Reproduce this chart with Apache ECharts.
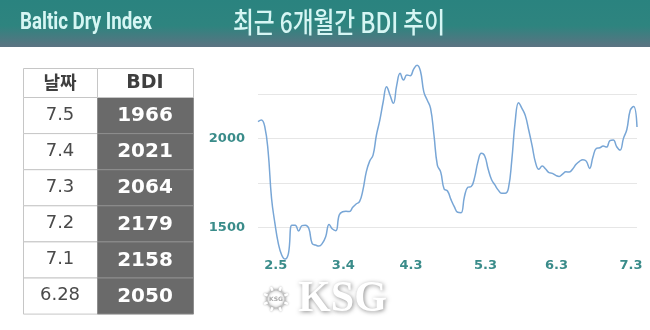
<!DOCTYPE html>
<html><head><meta charset="utf-8">
<script src="https://cdn.jsdelivr.net/npm/echarts@6/dist/echarts.min.js"></script>
<style>html,body{margin:0;padding:0;background:#fff}#c{width:650px;height:330px}</style>
</head><body><div id="c"></div><script>
const dates = [
'1.25','1.26','1.29','1.30','1.31',
'2.1','2.2','2.5','2.6','2.7','2.8','2.9','2.12','2.13','2.14','2.15','2.16','2.19','2.20','2.21','2.22','2.23','2.26','2.27','2.28','2.29',
'3.1','3.4','3.5','3.6','3.7','3.8','3.11','3.12','3.13','3.14','3.15','3.18','3.19','3.20','3.21','3.22','3.25','3.26','3.27','3.28',
'4.2','4.3','4.4','4.5','4.8','4.9','4.10','4.11','4.12','4.15','4.16','4.17','4.18','4.19','4.22','4.23','4.24','4.25','4.26','4.29','4.30',
'5.1','5.2','5.3','5.6','5.7','5.8','5.9','5.10','5.13','5.14','5.15','5.16','5.17','5.20','5.21','5.22','5.23','5.24','5.27','5.28','5.29','5.30','5.31',
'6.3','6.4','6.5','6.6','6.7','6.10','6.11','6.12','6.13','6.14','6.17','6.18','6.19','6.20','6.21','6.24','6.25','6.26','6.27','6.28',
'7.1','7.2','7.3'];
const bdiValues = [
2094,2103,2066,1925,1663,1522,1409,1344,1321,1353,
1512,1512,1479,1509,1512,1494,1409,1400,1394,1409,
1447,1516,1490,1481,1569,1587,1590,1588,1612,1631,
1644,1709,1812,1872,1906,2019,2103,2206,2291,2244,
2197,2300,2366,2328,2356,2353,2390,2412,2379,2262,
2216,2169,2019,1850,1810,1715,1704,1657,1616,1584,
1582,1672,1725,1729,1779,1869,1916,1901,1828,1769,
1738,1709,1691,1691,1719,1878,2094,2201,2169,2128,
2047,1959,1865,1826,1844,1828,1807,1803,1792,1786,
1799,1812,1811,1828,1854,1871,1880,1872,1831,1897,
1944,1947,1957,1951,1987,1991,1953,1934,2000,2050,
2158,2179,2064];
const xTickLabels = ['2.5','3.4','4.3','5.3','6.3','7.3'];
const yTickLabels = [1500, 2000];
const tableHeader = ['날짜','BDI'];
const tableDates = ['7.5','7.4','7.3','7.2','7.1','6.28'];
const tableBDI = [1966,2021,2064,2179,2158,2050];
const titleLeft = 'Baltic Dry Index';
const titleRight = '최근 6개월간 BDI 추이';
const watermark = 'KSG';

function fitScale(text, font, target){
  const c = document.createElement('canvas').getContext('2d');
  c.font = font;
  return target / c.measureText(text).width;
}
const fontL = 'bold 24px Roboto';
const fontR = '500 28px "Noto Sans CJK KR"';
const fontW = 'bold 44px "Liberation Serif"';
const teal = '#3a8c8a';

function renderTable(params, api){
  const cs = params.coordSys;
  const i = api.value(1);
  const yc = api.coord([0, i])[1];
  const h = api.size([0, 1])[1];
  const top = yc - h/2;
  const x0 = cs.x, w = cs.width, dw = Math.round(w*0.435);
  const ch = [
    {type:'rect', shape:{x:x0+0.5, y:top+0.5, width:dw, height:h}, style:{fill:'#fff', stroke:'#c6c6c6', lineWidth:1}},
    {type:'rect', shape:{x:x0+dw+0.5, y:top+0.5, width:w-dw, height:h}, style:{fill:'#6a6a6a', stroke:'#8e8e8e', lineWidth:1}},
    {type:'text', x:x0+dw/2, y:yc, style:{text:tableDates[i], fill:'#4a4a4a', font:'18px "DejaVu Sans"', align:'center', verticalAlign:'middle'}},
    {type:'text', x:x0+dw+(w-dw)/2, y:yc+1, style:{text:String(api.value(2)), fill:'#fff', font:'bold 20px "DejaVu Sans"', align:'center', verticalAlign:'middle'}}
  ];
  if (i === 0) {
    const hh = 29, ht = top - hh;
    ch.push(
      {type:'rect', shape:{x:x0+0.5, y:ht+0.5, width:dw, height:hh}, style:{fill:'#fff', stroke:'#c6c6c6', lineWidth:1}},
      {type:'rect', shape:{x:x0+dw+0.5, y:ht+0.5, width:w-dw, height:hh}, style:{fill:'#fff', stroke:'#c6c6c6', lineWidth:1}},
      {type:'text', x:x0+dw/2, y:ht+hh/2, style:{text:tableHeader[0], fill:'#3f3f3f', font:'bold 18px "Noto Sans CJK KR"', align:'center', verticalAlign:'middle'}},
      {type:'text', x:x0+dw+(w-dw)/2, y:ht+hh/2+1, style:{text:tableHeader[1], fill:'#3f3f3f', font:'bold 19px "DejaVu Sans"', align:'center', verticalAlign:'middle'}}
    );
  }
  return {type:'group', children: ch};
}

const spokes = [];
for (let k = 0; k < 8; k++) {
  const a = k*Math.PI/4 + Math.PI/8;
  spokes.push({type:'line', shape:{x1:276+Math.cos(a)*9, y1:299+Math.sin(a)*9, x2:276+Math.cos(a)*13, y2:299+Math.sin(a)*13},
    style:{stroke:'#fff', lineWidth:2.5, shadowBlur:2, shadowColor:'rgba(0,0,0,0.35)'}, z:10});
}

const chart = echarts.init(document.getElementById('c'), null, {renderer:'canvas'});
chart.setOption({
  animation:false,
  backgroundColor:'#fff',
  grid:[
    {left:258, right:13, top:49.5, bottom:58.3},
    {left:23, top:97, width:170, height:216.6}
  ],
  xAxis:[
    {type:'category', data:dates, boundaryGap:false,
     axisLine:{show:false}, axisTick:{show:false}, splitLine:{show:false},
     axisLabel:{inside:true, margin:0, interval:(idx,v)=>xTickLabels.includes(v), color:teal,
       fontFamily:'DejaVu Sans', fontWeight:'bold', fontSize:13, padding:[0,12,0,0]}},
    {gridIndex:1, type:'value', min:0, max:1, show:false}
  ],
  yAxis:[
    {type:'value', min:1250, max:2500, interval:250,
     axisLine:{show:false}, axisTick:{show:false},
     splitLine:{show:true, showMinLine:false, showMaxLine:false, lineStyle:{color:'#e6e6e6', width:1}},
     axisLabel:{margin:13, formatter:v=>yTickLabels.includes(v)?String(v):'', color:teal,
       fontFamily:'DejaVu Sans', fontWeight:'bold', fontSize:13}},
    {gridIndex:1, type:'category', data:tableDates, inverse:true, show:false}
  ],
  series:[
    {type:'line', data:bdiValues, smooth:0.45, symbol:'none', lineStyle:{color:'#78a6d6', width:1.5}},
    {type:'custom', xAxisIndex:1, yAxisIndex:1, data:tableBDI.map((v,i)=>[0,i,v]), encode:{x:0,y:1}, renderItem:renderTable}
  ],
  graphic:[
    {type:'rect', left:0, top:0, shape:{width:650, height:47}, z:0,
     style:{fill:new echarts.graphic.LinearGradient(0,0,0,1,[
       {offset:0, color:'#2a837f'},{offset:0.55, color:'#2e847f'},{offset:1, color:'#5c7382'}])}},
    {type:'text', x:20, y:23, scaleX:fitScale(titleLeft, fontL, 132), z:5,
     style:{text:titleLeft, font:fontL, fill:'#d6f6f4', verticalAlign:'middle'}},
    {type:'text', x:233, y:22, scaleX:fitScale(titleRight, fontR, 212), z:5,
     style:{text:titleRight, font:fontR, fill:'#d6f6f4', verticalAlign:'middle'}},
    {type:'circle', shape:{cx:276, cy:299, r:9}, z:10,
     style:{fill:'#fff', stroke:'#c8c8c8', lineWidth:1.5, shadowBlur:3, shadowColor:'rgba(0,0,0,0.35)'}},
    ...spokes,
    {type:'text', x:276, y:299, z:11, style:{text:watermark, font:'bold 6px "DejaVu Sans"', fill:'#aaa', align:'center', verticalAlign:'middle'}},
    {type:'text', x:298, y:300, scaleX:fitScale(watermark, fontW, 89), z:10,
     style:{text:watermark, font:fontW, fill:'#fff', verticalAlign:'middle',
       textShadowBlur:4, textShadowColor:'rgba(0,0,0,0.45)', textShadowOffsetX:1, textShadowOffsetY:1}}
  ]
});
</script></body></html>
